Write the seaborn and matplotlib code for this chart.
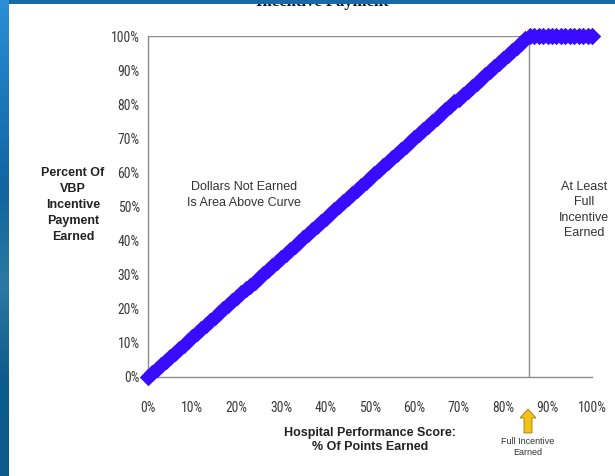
import numpy as np
import pandas as pd
import matplotlib
matplotlib.use("Agg")
import matplotlib.pyplot as plt
from matplotlib.patches import Rectangle, FancyArrow
from matplotlib import font_manager
import seaborn as sns

# Hospital performance score (% of points earned) and share of incentive payment earned
score = list(range(0, 101))
payment = [
    0.00, 1.17, 2.33, 3.50, 4.67, 5.83, 7.00, 8.17, 9.33, 10.50,
    11.67, 12.83, 14.00, 15.17, 16.33, 17.50, 18.67, 19.83, 21.00, 22.17,
    23.33, 24.50, 25.67, 26.83, 28.00, 29.17, 30.33, 31.50, 32.67, 33.83,
    35.00, 36.17, 37.33, 38.50, 39.67, 40.83, 42.00, 43.17, 44.33, 45.50,
    46.67, 47.83, 49.00, 50.17, 51.33, 52.50, 53.67, 54.83, 56.00, 57.17,
    58.33, 59.50, 60.67, 61.83, 63.00, 64.17, 65.33, 66.50, 67.67, 68.83,
    70.00, 71.17, 72.33, 73.50, 74.67, 75.83, 77.00, 78.17, 79.33, 80.50,
    81.67, 82.83, 84.00, 85.17, 86.33, 87.50, 88.67, 89.83, 91.00, 92.17,
    93.33, 94.50, 95.67, 96.83, 98.00, 99.17, 100.0, 100.0, 100.0, 100.0,
    100.0, 100.0, 100.0, 100.0, 100.0, 100.0, 100.0, 100.0, 100.0, 100.0,
    100.0,
]
full_incentive_score = 85.7
tick_values = list(range(0, 101, 10))
tick_labels = [f"{v}%" for v in tick_values]

df = pd.DataFrame({"score": score, "payment": payment})

sns.set_style("white")
plt.rcParams["font.family"] = ["Liberation Sans", "DejaVu Sans"]

# Pick a condensed face for tick labels if one is installed
installed = {f.name for f in font_manager.fontManager.ttflist}
narrow_family = next((n for n in ("Liberation Sans Narrow", "DejaVu Sans Condensed",
                                  "Roboto Condensed", "Open Sans Condensed")
                      if n in installed), None)

W, H = 615, 476
fig = plt.figure(figsize=(W / 100, H / 100), dpi=100)
fig.patch.set_facecolor("white")

# Slide frame: blue strip on the left and along the top
strip = fig.add_axes([0, 0, 9 / W, 1], zorder=20)
cmap = matplotlib.colors.LinearSegmentedColormap.from_list(
    "slide", ["#2a8fd6", "#1b78bd", "#11649f", "#2a7aa3", "#0c5b8d", "#0b5a8b"])
strip.imshow(np.linspace(0, 1, 200)[:, None], aspect="auto", cmap=cmap,
             extent=[0, 1, 0, 1], origin="upper")
strip.set_axis_off()
fig.patches.append(Rectangle((0, 1 - 3.5 / H), 1, 3.5 / H, transform=fig.transFigure,
                             facecolor="#176aa6", edgecolor="none", zorder=15))

ax = fig.add_axes([148 / W, 1 - 377 / H, 444 / W, 341 / H])

gray = "#8c8c8c"
ax.axhline(100, color=gray, lw=1.0, zorder=1)
ax.axvline(full_incentive_score, color=gray, lw=1.0, zorder=1)

sns.lineplot(data=df, x="score", y="payment", ax=ax, color="#3a0cff",
             marker="D", markersize=8, markeredgecolor="#3a0cff",
             linewidth=3, clip_on=False, zorder=3)

ax.set_xlim(0, 100)
ax.set_ylim(0, 100)
ax.set_xticks(tick_values)
ax.set_xticklabels(tick_labels)
ax.set_yticks(tick_values)
ax.set_yticklabels(tick_labels)
ax.set_xlabel("")
ax.set_ylabel("")
for side in ("top", "right"):
    ax.spines[side].set_visible(False)
for side in ("left", "bottom"):
    ax.spines[side].set_color(gray)
    ax.spines[side].set_linewidth(1.0)

ax.tick_params(axis="both", direction="out", length=4, width=1, color=gray,
               labelcolor="#3a3a3a", labelsize=9.8 if narrow_family else 7.5)
ax.tick_params(axis="x", pad=13)
ax.tick_params(axis="y", pad=2)
if narrow_family:
    for lab in ax.get_xticklabels() + ax.get_yticklabels():
        lab.set_family([narrow_family, "DejaVu Sans"])

def fx(px):
    return px / W

def fy(py):
    return 1 - py / H

fig.text(fx(322), fy(6), "Incentive Payment", ha="center", va="baseline",
         family=["Liberation Serif", "DejaVu Serif"], weight="bold", size=12,
         color="#111111", zorder=5)

fig.text(fx(73), fy(205), "Percent Of\nVBP\nIncentive\nPayment\nEarned",
         ha="center", va="center", weight="bold", size=9, color="#222222",
         linespacing=1.45)
fig.text(fx(370), fy(440), "Hospital Performance Score:\n% Of Points Earned",
         ha="center", va="center", weight="bold", size=9, color="#222222",
         linespacing=1.3)
fig.text(fx(244), fy(195), "Dollars Not Earned\nIs Area Above Curve",
         ha="center", va="center", size=9, color="#333333", linespacing=1.45)
fig.text(fx(584), fy(210), "At Least\nFull\nIncentive\nEarned",
         ha="center", va="center", size=9, color="#333333", linespacing=1.4)
fig.text(fx(528), fy(447), "Full Incentive\nEarned",
         ha="center", va="center", size=6.5, color="#333333", linespacing=1.25)

# Yellow arrow pointing at the full-incentive threshold
fig.patches.append(FancyArrow(5.28, (H - 433) / 100, 0, 0.24, width=0.08,
                              head_width=0.16, head_length=0.09,
                              length_includes_head=True,
                              transform=fig.dpi_scale_trans,
                              facecolor="#f2c21b", edgecolor="#9a7a10",
                              linewidth=0.6, zorder=6))

fig.savefig("out.png", dpi=100)
